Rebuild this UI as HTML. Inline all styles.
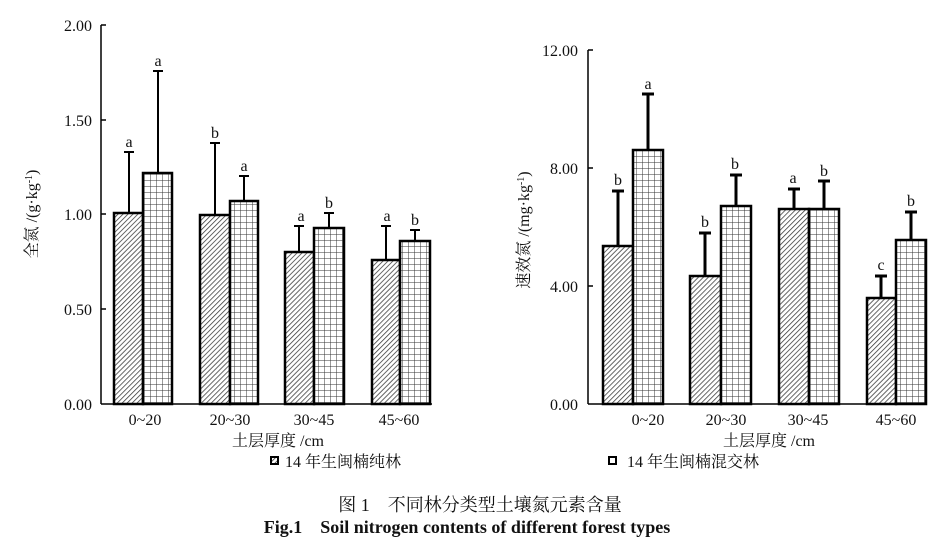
<!DOCTYPE html>
<html><head><meta charset="utf-8"><style>
body{margin:0;background:#fff;width:945px;height:549px;overflow:hidden}
text{font-family:"Liberation Serif","Noto Serif CJK SC",serif;fill:#111}
</style></head><body>
<svg width="945" height="549" viewBox="0 0 945 549" xmlns="http://www.w3.org/2000/svg">
<defs>
<pattern id="h" patternUnits="userSpaceOnUse" width="3.5" height="3.5" patternTransform="rotate(45)"><rect width="4" height="4" fill="#fff"/><line x1="0" y1="0" x2="0" y2="4" stroke="#333" stroke-width="1.5"/></pattern>
<pattern id="g" patternUnits="userSpaceOnUse" width="6" height="6"><rect width="6" height="6" fill="#fff"/><path d="M0 0H6M0 0V6" stroke="#333" stroke-width="1"/></pattern>
</defs>
<g stroke="#000" fill="none" stroke-width="1.5">
<line x1="101" y1="25" x2="101" y2="404"/><line x1="101" y1="404" x2="432" y2="404"/>
<line x1="101" y1="25" x2="106" y2="25"/><line x1="101" y1="120" x2="106" y2="120"/><line x1="101" y1="214" x2="106" y2="214"/><line x1="101" y1="309" x2="106" y2="309"/>
<line x1="588" y1="50" x2="588" y2="404"/><line x1="588" y1="404" x2="927" y2="404"/>
<line x1="588" y1="50" x2="593" y2="50"/><line x1="588" y1="168" x2="593" y2="168"/><line x1="588" y1="286" x2="593" y2="286"/>
</g>
<g stroke="#000" stroke-width="2">
<path d="M129 213V152M124 152H134 M158 173V71M153 71H163 M215 215V143M210 143H220 M244 201V176M239 176H249 M299 252V226M294 226H304 M329 228V213M324 213H334 M386 260V226M381 226H391 M415 241V230M410 230H420"/>
</g>
<g stroke="#000" stroke-width="3">
<path d="M618 246V191M612 191H624 M648 150V94M642 94H654 M705 276V233M699 233H711 M736 206V175M730 175H742 M794 209V189M788 189H800 M824 209V181M818 181H830 M881 298V276M875 276H887 M911 240V212M905 212H917"/>
</g>
<g stroke="#000" stroke-width="2.5">
<rect x="114" y="213" width="29" height="191" fill="url(#h)"/><rect x="143" y="173" width="29" height="231" fill="url(#g)"/>
<rect x="200" y="215" width="30" height="189" fill="url(#h)"/><rect x="230" y="201" width="28" height="203" fill="url(#g)"/>
<rect x="285" y="252" width="29" height="152" fill="url(#h)"/><rect x="314" y="228" width="30" height="176" fill="url(#g)"/>
<rect x="372" y="260" width="28" height="144" fill="url(#h)"/><rect x="400" y="241" width="30" height="163" fill="url(#g)"/>
<rect x="603" y="246" width="30" height="158" fill="url(#h)"/><rect x="633" y="150" width="30" height="254" fill="url(#g)"/>
<rect x="690" y="276" width="31" height="128" fill="url(#h)"/><rect x="721" y="206" width="30" height="198" fill="url(#g)"/>
<rect x="779" y="209" width="30" height="195" fill="url(#h)"/><rect x="809" y="209" width="30" height="195" fill="url(#g)"/>
<rect x="867" y="298" width="29" height="106" fill="url(#h)"/><rect x="896" y="240" width="30" height="164" fill="url(#g)"/>
</g>
<g font-size="16">
<g text-anchor="end"><text x="92" y="31">2.00</text><text x="92" y="126">1.50</text><text x="92" y="220">1.00</text><text x="92" y="315">0.50</text><text x="92" y="410">0.00</text>
<text x="578" y="56">12.00</text><text x="578" y="174">8.00</text><text x="578" y="292">4.00</text><text x="578" y="410">0.00</text></g>
<g text-anchor="middle"><text x="145" y="425">0~20</text><text x="230" y="425">20~30</text><text x="314" y="425">30~45</text><text x="399" y="425">45~60</text>
<text x="648" y="425">0~20</text><text x="726" y="425">20~30</text><text x="808" y="425">30~45</text><text x="896" y="425">45~60</text>
<text x="278" y="446">土层厚度 /cm</text><text x="769" y="446">土层厚度 /cm</text>
<text x="129" y="147">a</text><text x="158" y="66">a</text><text x="215" y="138">b</text><text x="244" y="171">a</text><text x="301" y="221">a</text><text x="329" y="208">b</text><text x="387" y="221">a</text><text x="415" y="225">b</text>
<text x="618" y="185">b</text><text x="648" y="89">a</text><text x="705" y="227">b</text><text x="735" y="169">b</text><text x="793" y="183">a</text><text x="824" y="176">b</text><text x="881" y="270">c</text><text x="911" y="206">b</text></g>
<text transform="translate(37,214) rotate(-90)" text-anchor="middle">全氮 /(g·kg<tspan font-size="10" dy="-5">-1</tspan><tspan dy="5">)</tspan></text>
<text transform="translate(529,230) rotate(-90)" text-anchor="middle">速效氮 /(mg·kg<tspan font-size="10" dy="-5">-1</tspan><tspan dy="5">)</tspan></text>
<text x="285" y="467">14 年生闽楠纯林</text><text x="627" y="467">14 年生闽楠混交林</text>
</g>
<rect x="271" y="457" width="7" height="7" fill="url(#h)" stroke="#000" stroke-width="2"/>
<rect x="609" y="457" width="7" height="7" fill="#fff" stroke="#000" stroke-width="2"/>
<text x="480" y="511" font-size="18" text-anchor="middle">图 1　不同林分类型土壤氮元素含量</text>
<text x="467" y="533" font-size="18" font-weight="bold" text-anchor="middle">Fig.1　Soil nitrogen contents of different forest types</text>
</svg>
</body></html>
